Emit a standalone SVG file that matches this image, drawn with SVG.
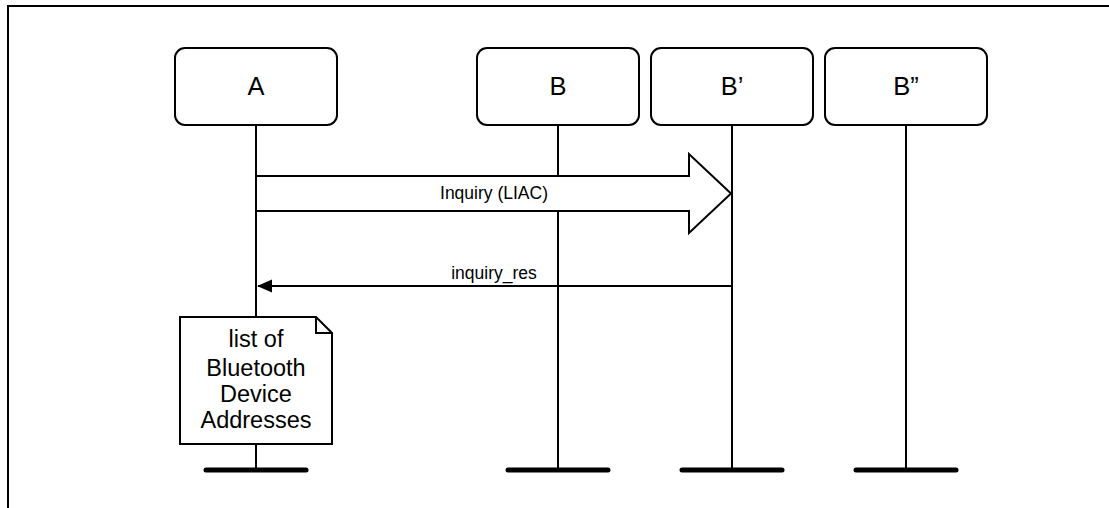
<svg xmlns="http://www.w3.org/2000/svg" width="1109" height="508" viewBox="0 0 1109 508">
<style>
.box{fill:#fff;stroke:#000;stroke-width:2}
.life{stroke:#000;stroke-width:2;fill:none}
.bar{stroke:#000;stroke-width:5;stroke-linecap:round}
.lbl{font-family:"Liberation Sans",Arial,sans-serif;font-size:25.5px;text-anchor:middle;fill:#000}
.msg{font-family:"Liberation Sans",Arial,sans-serif;font-size:17.5px;text-anchor:middle;fill:#000}
.note{font-family:"Liberation Sans",Arial,sans-serif;font-size:23.5px;text-anchor:middle;fill:#000}
</style>
<rect width="1109" height="508" fill="#fff"/>
<path d="M8,508 L8,6 L1109,6" fill="none" stroke="#000" stroke-width="2"/>
<g id="lifelines">
<line class="life" x1="256" y1="125" x2="256" y2="470"/>
<line class="life" x1="558" y1="125" x2="558" y2="470"/>
<line class="life" x1="732" y1="125" x2="732" y2="470"/>
<line class="life" x1="906" y1="125" x2="906" y2="470"/>
<line class="bar" x1="206" y1="470" x2="306" y2="470"/>
<line class="bar" x1="508" y1="470" x2="608" y2="470"/>
<line class="bar" x1="682" y1="470" x2="782" y2="470"/>
<line class="bar" x1="856" y1="470" x2="956" y2="470"/>
</g>
<g id="A"><rect class="box" x="175" y="48" width="162" height="77" rx="10"/><text class="lbl" x="256" y="95">A</text></g>
<g id="B"><rect class="box" x="477" y="48" width="162" height="77" rx="10"/><text class="lbl" x="558" y="95">B</text></g>
<g id="Bp"><rect class="box" x="651" y="48" width="162" height="77" rx="10"/><text class="lbl" x="732" y="95">B’</text></g>
<g id="Bpp"><rect class="box" x="825" y="48" width="162" height="77" rx="10"/><text class="lbl" x="906" y="95">B”</text></g>
<g id="connectors">
<polygon points="256,176 689,176 689,154 731,193.5 689,233 689,211 256,211" fill="#fff" stroke="#000" stroke-width="2" stroke-linejoin="miter"/>
<text class="msg" x="494" y="199">Inquiry (LIAC)</text>
<line x1="732" y1="286" x2="258" y2="286" stroke="#000" stroke-width="2"/>
<polygon points="257,286 272,279.5 272,292.5" fill="#000"/>
<text class="msg" x="494" y="279">inquiry_res</text>
</g>
<g id="note">
<polygon points="180,317 316,317 332,333 332,444 180,444" fill="#fff" stroke="#000" stroke-width="2"/>
<polyline points="316,317 316,333 332,333" fill="none" stroke="#000" stroke-width="2"/>
<text class="note" x="256" y="347">list of</text>
<text class="note" x="256" y="376">Bluetooth</text>
<text class="note" x="256" y="402">Device</text>
<text class="note" x="256" y="428">Addresses</text>
</g>
</svg>
